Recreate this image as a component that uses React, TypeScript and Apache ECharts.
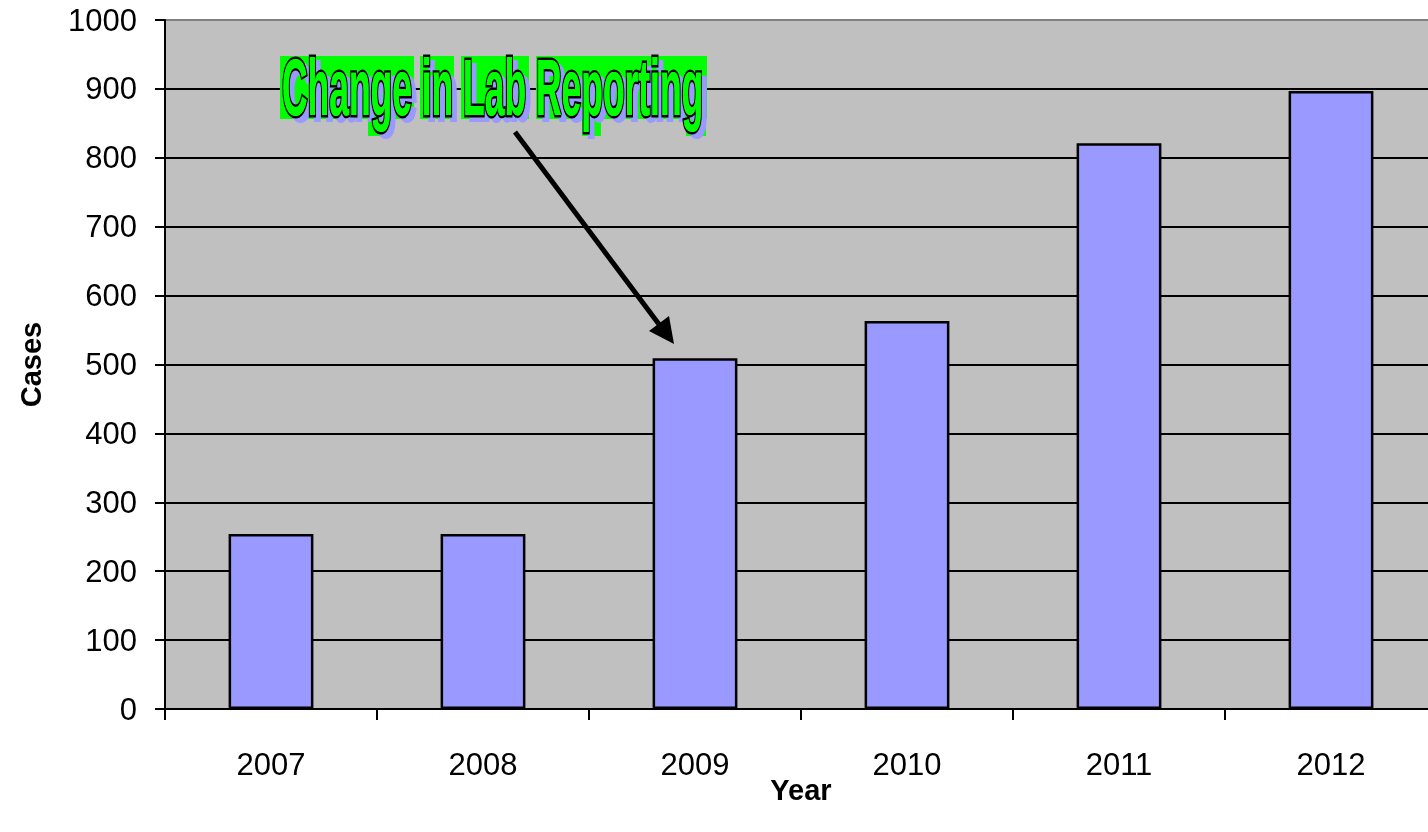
import React, { useEffect, useRef } from "react";
import * as echarts from "echarts";

const years = ["2007", "2008", "2009", "2010", "2011", "2012"];
const cases = [254, 254, 509, 563, 821, 897];
const yTicks = [0, 100, 200, 300, 400, 500, 600, 700, 800, 900, 1000];
const annotationText = "Change in Lab Reporting";

const FONT = '"Liberation Sans", Arial, sans-serif';
const NARROW = '"Liberation Sans Narrow", "Liberation Sans", Arial, sans-serif';

function measure(text: string, font: string): number {
  const c = document.createElement("canvas");
  const ctx = c.getContext("2d");
  if (!ctx) return 800;
  ctx.font = font;
  return ctx.measureText(text).width;
}

export default function App() {
  const ref = useRef<HTMLDivElement>(null);
  useEffect(() => {
    if (!ref.current) return;
    const chart = echarts.init(ref.current, null, { renderer: "svg" });
    const fs = 80;
    const w = measure(annotationText, `bold ${fs}px ${NARROW}`);
    const sx = 421 / w;
    const textStyleBase = {
      text: annotationText,
      fontSize: fs,
      fontWeight: "bold",
      fontFamily: NARROW,
      verticalAlign: "middle",
      align: "left",
    };
    const greenBoxes = [
      [280, 56, 134, 63],
      [420, 56, 34, 63],
      [461, 56, 68, 63],
      [536, 56, 171, 63],
      [368, 100, 22, 36],
      [582, 100, 19, 36],
      [686, 100, 20, 36],
    ];
    chart.setOption({
      animation: false,
      grid: { left: 165, top: 20, right: 3, bottom: 123, show: true, backgroundColor: "#C0C0C0", borderColor: "#808080", borderWidth: 2 },
      xAxis: {
        type: "category",
        data: years,
        name: "Year",
        nameLocation: "middle",
        nameGap: 66,
        nameMoveOverlap: false,
        nameTextStyle: { fontFamily: FONT, fontSize: 29, fontWeight: "bold", color: "#000" },
        axisLine: { lineStyle: { color: "#000", width: 2 } },
        axisTick: { show: true, length: 11, lineStyle: { color: "#000", width: 2 } },
        axisLabel: { fontFamily: FONT, fontSize: 31, color: "#000", margin: 40 },
      },
      yAxis: {
        type: "value",
        min: 0,
        max: 1000,
        interval: 100,
        name: "Cases",
        nameLocation: "middle",
        nameGap: 120,
        nameMoveOverlap: false,
        nameTextStyle: { fontFamily: FONT, fontSize: 29, fontWeight: "bold", color: "#000" },
        axisLine: { show: true, lineStyle: { color: "#000", width: 2 } },
        axisTick: { show: true, length: 10, lineStyle: { color: "#000", width: 2 } },
        axisLabel: { fontFamily: FONT, fontSize: 31, color: "#000", margin: 28, formatter: (v: number) => String(v) },
        splitLine: {
          show: true,
          lineStyle: { width: 2, color: yTicks.map((t) => (t === 1000 ? "#808080" : "#000")) },
        },
      },
      series: [
        {
          type: "bar",
          data: cases,
          barWidth: "40%",
          itemStyle: { color: "#9999FF", borderColor: "#000", borderWidth: 2.5 },
        },
      ],
      graphic: [
        ...greenBoxes.map((b) => ({
          type: "rect",
          z: 100,
          shape: { x: b[0], y: b[1], width: b[2], height: b[3] },
          style: { fill: "#00FF00" },
        })),
        {
          type: "text",
          z: 101,
          x: 287,
          y: 92,
          scaleX: sx,
          style: { ...textStyleBase, fill: "#9999FF", stroke: "#9999FF", lineWidth: 4 },
        },
        {
          type: "text",
          z: 102,
          x: 282,
          y: 87,
          scaleX: sx,
          style: { ...textStyleBase, fill: "#00FF00", stroke: "#000", lineWidth: 5, strokeFirst: true },
        },
        {
          type: "text",
          z: 103,
          x: 282,
          y: 87,
          scaleX: sx,
          style: { ...textStyleBase, fill: "#00FF00" },
        },
        {
          type: "line",
          z: 103,
          shape: { x1: 515, y1: 132, x2: 661, y2: 327 },
          style: { stroke: "#000", lineWidth: 5 },
        },
        {
          type: "polygon",
          z: 103,
          shape: { points: [[649, 331], [669, 316], [674, 344]] },
          style: { fill: "#000" },
        },
      ],
    });
    return () => chart.dispose();
  }, []);
  return <div ref={ref} style={{ position: "fixed", left: 0, top: 0, width: 1440, height: 832 }} />;
}
